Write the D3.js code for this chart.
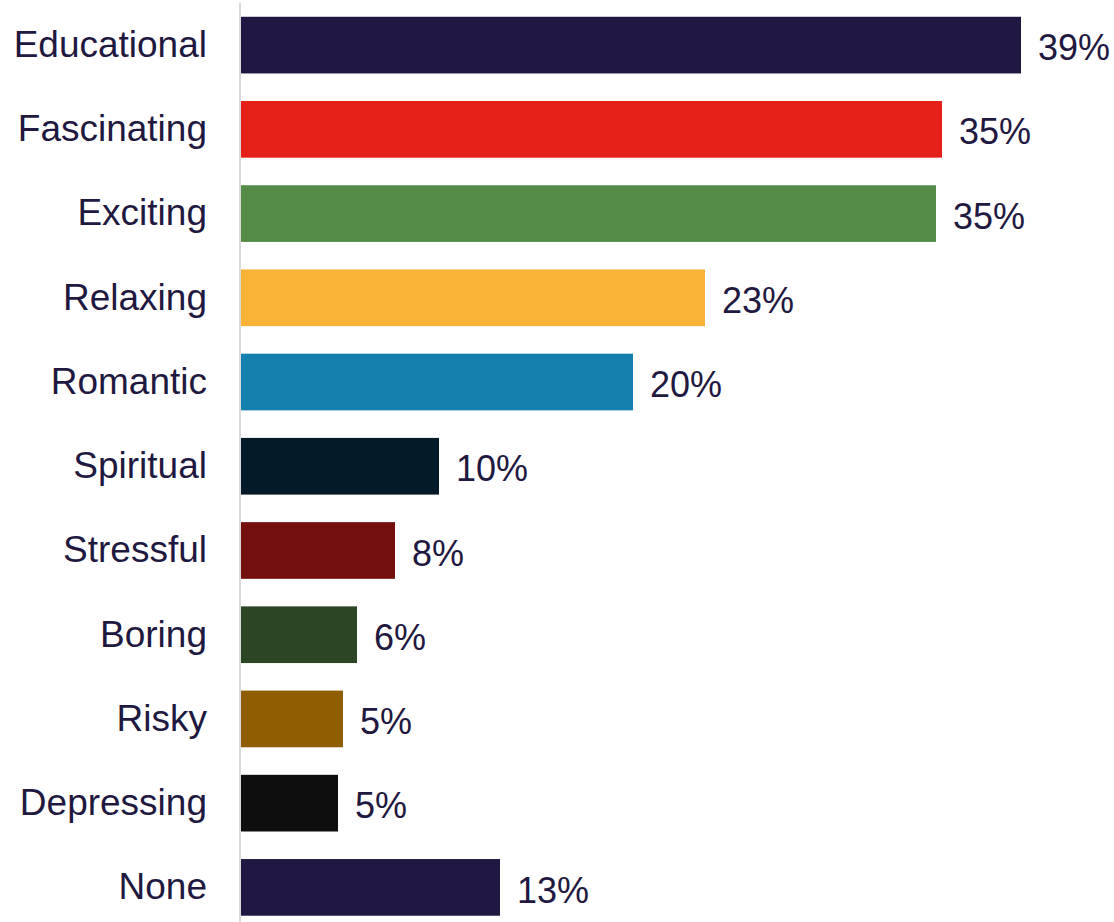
<!DOCTYPE html>
<html>
<head>
<meta charset="utf-8">
<script src="https://cdn.jsdelivr.net/npm/d3@7"></script>
<style>
  body { margin: 0; background: #fff; }
  text { font-family: "Liberation Sans", Arial, sans-serif; fill: #1f1941; }
</style>
</head>
<body>
<div id="barchart"></div>
<script>
// DATA
const categories = ["Educational", "Fascinating", "Exciting", "Relaxing", "Romantic", "Spiritual",
  "Stressful", "Boring", "Risky", "Depressing", "None"];
const values = [39, 35.05, 34.75, 23.2, 19.6, 9.9, 7.7, 5.8, 5.1, 4.85, 12.95];
const valueLabels = ["39%", "35%", "35%", "23%", "20%", "10%", "8%", "6%", "5%", "5%", "13%"];
const barColors = ["#201843", "#e52019", "#548b46", "#f8b235", "#1380ae", "#041a28",
  "#73100d", "#2c4524", "#8f5d02", "#0e0e0e", "#201843"];

const data = categories.map((c, i) => ({ cat: c, val: values[i], label: valueLabels[i], color: barColors[i] }));

// DIMENSIONS
const width = 1114, height = 922;
const x0 = 241;

const svg = d3.select("#barchart")
  .append("svg")
  .attr("width", width)
  .attr("height", height);

// SCALES
const x = d3.scaleLinear()
  .domain([0, 39])
  .range([x0, 1021]);

const y = d3.scaleBand()
  .domain(categories)
  .range([3, 929.5])
  .paddingInner(0.327)
  .paddingOuter(0.1635);

// BARS
svg.selectAll("rect.bar")
  .data(data)
  .join("rect")
  .attr("class", "bar")
  .attr("x", x(0))
  .attr("y", d => y(d.cat))
  .attr("width", d => x(d.val) - x(0))
  .attr("height", y.bandwidth())
  .style("fill", d => d.color);

// AXIS LINE
svg.append("line")
  .attr("x1", x0 - 1).attr("x2", x0 - 1)
  .attr("y1", 3).attr("y2", height)
  .style("stroke", "#d9d9d9")
  .style("stroke-width", 2);

// CATEGORY LABELS
svg.selectAll("text.cat")
  .data(data)
  .join("text")
  .attr("class", "cat")
  .attr("x", 207)
  .attr("y", d => y(d.cat) + y.bandwidth() / 2)
  .attr("dy", "0.32em")
  .attr("text-anchor", "end")
  .style("font-size", "37px")
  .text(d => d.cat);

// VALUE LABELS
svg.selectAll("text.val")
  .data(data)
  .join("text")
  .attr("class", "val")
  .attr("x", d => x(d.val) + 17)
  .attr("y", d => y(d.cat) + y.bandwidth() / 2)
  .attr("dy", "0.42em")
  .style("font-size", "36px")
  .text(d => d.label);
</script>
</body>
</html>
